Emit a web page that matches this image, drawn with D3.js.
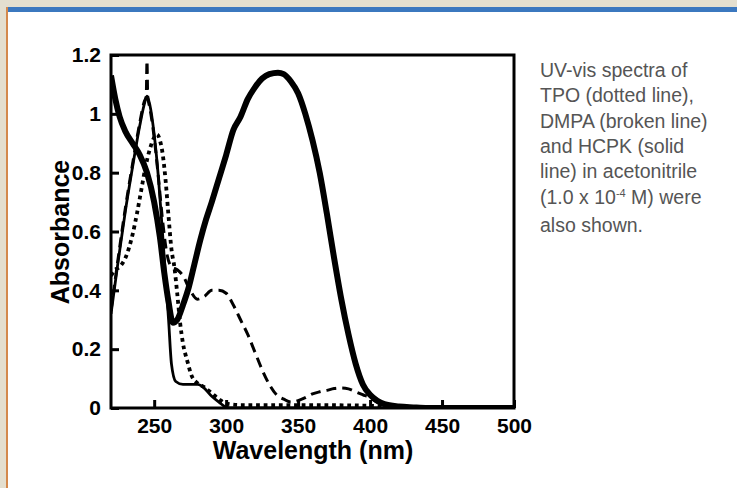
<!DOCTYPE html>
<html>
<head>
<meta charset="utf-8">
<script src="https://cdn.jsdelivr.net/npm/d3@7"></script>
<style>
  body { margin: 0; background: #e4dfcf; }
  svg { display: block; }
</style>
</head>
<body>
<script>
// chart data
const xTicks = [250, 300, 350, 400, 450, 500];
const yTicks = [0, 0.2, 0.4, 0.6, 0.8, 1, 1.2];

// thick solid curve
const thickWl = [220, 223, 226, 230, 235, 240, 245, 250, 254, 257, 260, 263, 266, 270, 274, 278, 282, 286, 290, 295, 300, 305, 310, 315, 320, 325, 330, 336, 340, 345, 350, 355, 360, 365, 370, 375, 380, 385, 390, 395, 400, 405, 410, 420, 430, 440, 500];
const thickAbs = [1.13, 1.05, 0.99, 0.94, 0.9, 0.86, 0.8, 0.7, 0.58, 0.46, 0.36, 0.29, 0.3, 0.35, 0.41, 0.49, 0.57, 0.64, 0.7, 0.78, 0.86, 0.945, 0.99, 1.05, 1.09, 1.12, 1.135, 1.14, 1.135, 1.11, 1.07, 1.0, 0.91, 0.8, 0.66, 0.51, 0.37, 0.25, 0.15, 0.08, 0.045, 0.025, 0.013, 0.005, 0.002, 0, 0];

// HCPK, thin solid
const hcpkWl = [220, 225, 230, 235, 240, 243, 245, 247, 250, 253, 256, 258, 260, 262, 265, 270, 275, 280, 283, 290, 295, 300, 305, 500];
const hcpkAbs = [0.32, 0.5, 0.67, 0.82, 0.96, 1.03, 1.06, 1.03, 0.93, 0.78, 0.58, 0.44, 0.3, 0.15, 0.09, 0.08, 0.08, 0.08, 0.075, 0.04, 0.02, 0.003, 0, 0];

// DMPA, broken line
const dmpaWl = [220, 225, 230, 235, 240, 243, 244.5, 245, 245.5, 247, 250, 253, 256, 259, 262, 266, 270, 275, 280, 285, 290, 295, 300, 305, 310, 315, 320, 325, 330, 335, 340, 345, 350, 355, 360, 365, 370, 375, 380, 385, 390, 395, 400, 405, 410, 420, 430, 500];
const dmpaAbs = [0.33, 0.51, 0.68, 0.83, 0.97, 1.04, 1.06, 1.18, 1.06, 1.02, 0.92, 0.78, 0.63, 0.52, 0.48, 0.47, 0.45, 0.4, 0.37, 0.38, 0.4, 0.4, 0.39, 0.35, 0.3, 0.25, 0.19, 0.13, 0.08, 0.045, 0.03, 0.02, 0.025, 0.035, 0.048, 0.055, 0.06, 0.066, 0.068, 0.065, 0.055, 0.045, 0.035, 0.02, 0.01, 0.003, 0, 0];

// TPO, dotted line
const tpoWl = [220, 223, 226, 230, 235, 238, 241, 244, 247, 250, 252, 254, 256, 258, 260, 262, 264, 266, 268, 270, 273, 276, 280, 285, 290, 295, 300, 310, 350, 400, 420, 500];
const tpoAbs = [0.45, 0.47, 0.48, 0.51, 0.59, 0.66, 0.74, 0.82, 0.88, 0.92, 0.93, 0.91, 0.86, 0.77, 0.65, 0.54, 0.48, 0.39, 0.29, 0.22, 0.16, 0.11, 0.085, 0.07, 0.05, 0.03, 0.015, 0.01, 0.01, 0.008, 0, 0];

const captionLines = ["UV-vis spectra of", "TPO (dotted line),", "DMPA (broken line)", "and HCPK (solid", "line) in acetonitrile"];

const w = 737, h = 488;

let svg = d3.select("body").append("svg")
  .attr("width", w)
  .attr("height", h);

// page panel
svg.append("rect").attr("x", 6).attr("y", 7).attr("width", w - 6).attr("height", h - 7).attr("fill", "#d4894c");
svg.append("rect").attr("x", 8).attr("y", 12).attr("width", w - 8).attr("height", h - 12).attr("fill", "#fff");
svg.append("rect").attr("x", 8).attr("y", 7).attr("width", w - 8).attr("height", 5).attr("fill", "#3b78bf");

// scales
let x = d3.scaleLinear().domain([220, 500]).range([111, 514]);
let y = d3.scaleLinear().domain([0, 1.2]).range([408, 55]);

const font = "'Liberation Sans', Arial, Helvetica, sans-serif";

svg.append("clipPath").attr("id", "plot")
  .append("rect")
  .attr("x", 111).attr("y", 55).attr("width", 403).attr("height", 353);

let g = svg.append("g").attr("clip-path", "url(#plot)");

function zip(a, b) { return a.map((v, i) => [v, b[i]]); }

let line = d3.line()
  .x(d => x(d[0]))
  .y(d => y(d[1]))
  .curve(d3.curveMonotoneX);

g.append("path").datum(zip(tpoWl, tpoAbs))
  .attr("d", line).attr("fill", "none").attr("stroke", "#000")
  .attr("stroke-width", 3.8).attr("stroke-dasharray", "3.8,3.8");

g.append("path").datum(zip(dmpaWl, dmpaAbs))
  .attr("d", line).attr("fill", "none").attr("stroke", "#000")
  .attr("stroke-width", 3).attr("stroke-dasharray", "10,6");

g.append("path").datum(zip(hcpkWl, hcpkAbs))
  .attr("d", line).attr("fill", "none").attr("stroke", "#000")
  .attr("stroke-width", 2.8).attr("stroke-linejoin", "round");

g.append("path").datum(zip(thickWl, thickAbs))
  .attr("d", line).attr("fill", "none").attr("stroke", "#000")
  .attr("stroke-width", 6).attr("stroke-linejoin", "round");

// frame
svg.append("rect")
  .attr("x", 111).attr("y", 55).attr("width", 403).attr("height", 353)
  .attr("fill", "none").attr("stroke", "#000").attr("stroke-width", 3);

// axes with inward ticks
let xAxis = svg.append("g")
  .attr("transform", "translate(0,408)")
  .call(d3.axisBottom(x).tickValues(xTicks).tickSizeInner(-8).tickSizeOuter(0).tickPadding(10));
let yAxis = svg.append("g")
  .attr("transform", "translate(111,0)")
  .call(d3.axisLeft(y).tickValues(yTicks).tickSizeInner(-8).tickSizeOuter(0).tickPadding(10)
    .tickFormat(d3.format("")));

[xAxis, yAxis].forEach(a => {
  a.select(".domain").remove();
  a.selectAll(".tick line").attr("stroke", "#000").attr("stroke-width", 3);
  a.selectAll("text").attr("font-family", font).attr("font-weight", "bold")
    .attr("font-size", 21).attr("fill", "#000");
});

// axis titles
svg.append("text")
  .attr("x", 313).attr("y", 459)
  .attr("text-anchor", "middle")
  .attr("font-family", font).attr("font-weight", "bold").attr("font-size", 25)
  .text("Wavelength (nm)");

svg.append("text")
  .attr("transform", "translate(69,232) rotate(-90)")
  .attr("text-anchor", "middle")
  .attr("font-family", font).attr("font-weight", "bold").attr("font-size", 25)
  .text("Absorbance");

// caption on the right
let cap = svg.append("g")
  .attr("font-family", font).attr("font-size", 19.5).attr("fill", "#555");

captionLines.forEach((t, i) => {
  cap.append("text").attr("x", 540).attr("y", 77 + i * 25.3).text(t);
});
let t6 = cap.append("text").attr("x", 540).attr("y", 77 + 5 * 25.3);
t6.append("tspan").text("(1.0 x 10");
t6.append("tspan").attr("font-size", 11).attr("dy", -7).text("-4");
t6.append("tspan").attr("dy", 7).text(" M) were");
cap.append("text").attr("x", 540).attr("y", 77 + 6 * 25.3 + 3).text("also shown.");
</script>
</body>
</html>
